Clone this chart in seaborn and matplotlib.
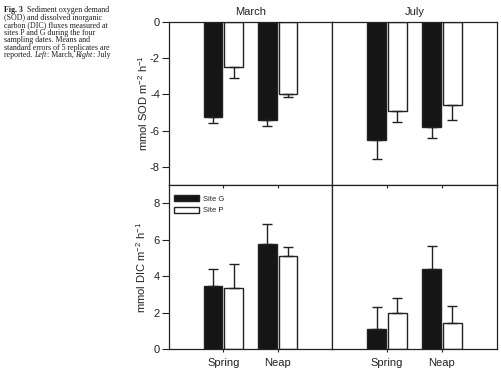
import matplotlib
matplotlib.use('Agg')
import matplotlib.pyplot as plt
import seaborn as sns
import pandas as pd

sns.set_style('ticks')
plt.rcParams['font.family'] = ['Liberation Sans', 'DejaVu Sans']
plt.rcParams['axes.unicode_minus'] = False
plt.rcParams['mathtext.fontset'] = 'custom'
plt.rcParams['mathtext.rm'] = 'Liberation Sans'
plt.rcParams['mathtext.it'] = 'Liberation Sans:italic'

# data (means and one-sided SE)
dates = ['Spring', 'Neap']
sites = ['Site G', 'Site P']
months = ['March', 'July']

sod_march = [[-5.25, -5.4], [-2.5, -3.95]]     # [site][date]
sod_march_se = [[0.3, 0.35], [0.6, 0.2]]
sod_july = [[-6.5, -5.8], [-4.9, -4.6]]
sod_july_se = [[1.05, 0.6], [0.6, 0.8]]

dic_march = [[3.45, 5.75], [3.35, 5.1]]
dic_march_se = [[0.95, 1.1], [1.3, 0.5]]
dic_july = [[1.1, 4.4], [1.95, 1.4]]
dic_july_se = [[1.2, 1.25], [0.85, 0.95]]

panels = {
    (0, 0): (sod_march, sod_march_se),
    (0, 1): (sod_july, sod_july_se),
    (1, 0): (dic_march, dic_march_se),
    (1, 1): (dic_july, dic_july_se),
}

site_colors = {'Site G': '#151515', 'Site P': 'white'}

fig = plt.figure(figsize=(5.02, 3.71), dpi=100)
W, H = 502, 371
xl, xm, xr = 169, 332, 497
yt, ym, yb = 22, 185, 349
axes = {}
for (r, c) in panels:
    x0 = [xl, xm][c]
    x1 = [xm, xr][c]
    y0 = [yt, ym][r]
    y1 = [ym, yb][r]
    axes[(r, c)] = fig.add_axes([x0 / W, 1 - y1 / H, (x1 - x0) / W, (y1 - y0) / H])

for (r, c), (vals, ses) in panels.items():
    ax = axes[(r, c)]
    rows = []
    for si, site in enumerate(sites):
        for di, d in enumerate(dates):
            rows.append({'date': d, 'site': site, 'value': vals[si][di], 'se': ses[si][di]})
    df = pd.DataFrame(rows)
    sns.barplot(data=df, x='date', y='value', hue='site', order=dates, hue_order=sites,
                palette=site_colors, width=0.76, gap=0.1, errorbar=None,
                edgecolor='#222222', linewidth=1.0, ax=ax, legend=(r == 1 and c == 0))
    # one-sided error bars, away from zero
    for p, (_, row) in zip(ax.patches, df.iterrows()):
        xc = p.get_x() + p.get_width() / 2
        if row['value'] < 0:
            yerr = [[row['se']], [0]]
        else:
            yerr = [[0], [row['se']]]
        ax.errorbar(xc, row['value'], yerr=yerr, fmt='none', ecolor='#222222',
                    elinewidth=1.0, capsize=3.5, capthick=1.0)
    ax.set_xlim(-1.0, 2.0)
    if r == 0:
        ax.set_ylim(-9, 0)
        ax.set_yticks([0, -2, -4, -6, -8])
        ax.set_title(months[c], fontsize=8, pad=5, color='#222222')
        ax.set_xticks([])
    else:
        ax.set_ylim(0, 9)
        ax.set_yticks([0, 2, 4, 6, 8])
        ax.tick_params(axis='x', labelsize=8, length=2.5, direction='out', pad=4,
                       labelcolor='#222222', color='#222222')
        ax.set_xticklabels(['Spring', 'Neap'])
        top = ax.secondary_xaxis('top')
        top.set_xticks([0, 1])
        top.tick_params(direction='in', length=2.5, labeltop=False, color='#222222')
        top.spines['top'].set_visible(False)
    ax.set_xlabel('')
    ax.set_ylabel('')
    for s in ax.spines.values():
        s.set_visible(True)
        s.set_linewidth(0.9)
        s.set_color('#222222')
    if c == 0:
        ax.tick_params(axis='y', labelsize=8, length=5, width=0.8, pad=1.5, direction='out',
                       labelcolor='#222222', color='#222222')
    else:
        ax.tick_params(axis='y', left=False, labelleft=False)

axes[(0, 0)].set_ylabel('mmol SOD m$^{-2}$ h$^{-1}$', fontsize=8, labelpad=0, color='#222222')
axes[(1, 0)].set_ylabel('mmol DIC m$^{-2}$ h$^{-1}$', fontsize=8, labelpad=4, color='#222222')

leg = axes[(1, 0)].legend(loc='upper left', bbox_to_anchor=(0.0, 0.97), frameon=False,
                          fontsize=5.5, handlelength=3.2, handleheight=0.8,
                          handletextpad=0.5, labelspacing=0.5, borderaxespad=0.3)

# caption
cap_font = dict(family='Liberation Serif', fontsize=5.7, color='#1a1a1a')
lines = [
    '(SOD) and dissolved inorganic',
    'carbon (DIC) fluxes measured at',
    'sites P and G during the four',
    'sampling dates. Means and',
    'standard errors of 5 replicates are',
]
x0, ytop, dy = 4 / W, 1 - 14.5 / H, 7.45 / H


def chain(parts, y):
    t = fig.text(x0, y, parts[0][0], va='bottom', ha='left',
                 fontweight=parts[0][1], **cap_font)
    for txt, wt, st in [(p[0], p[1], p[2] if len(p) > 2 else 'normal') for p in parts[1:]]:
        t = fig.add_artist(matplotlib.text.Annotation(
            txt, xy=(1, 0), xycoords=t, va='bottom', ha='left',
            fontweight=wt, style=st, **cap_font))


chain([('Fig. 3', 'bold'), ('  Sediment oxygen demand', 'normal')], ytop)
for i, ln in enumerate(lines, start=1):
    fig.text(x0, ytop - i * dy, ln, va='bottom', **cap_font)
chain([('reported. ', 'normal'), ('Left', 'normal', 'italic'), (': March, ', 'normal'),
       ('Right', 'normal', 'italic'), (': July', 'normal')], ytop - 6 * dy)

fig.savefig('out.png', dpi=100)
